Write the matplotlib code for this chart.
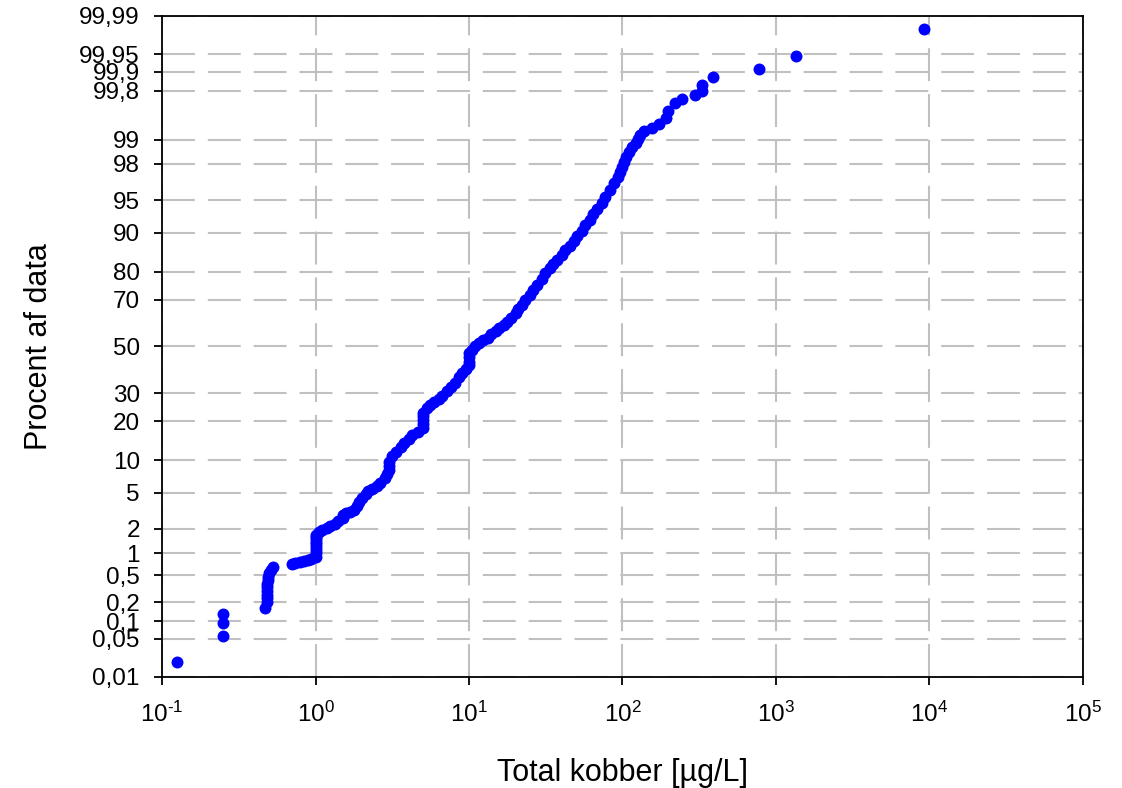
import math
import numpy as np
import matplotlib
matplotlib.use("Agg")
import matplotlib.pyplot as plt
from matplotlib.ticker import NullLocator, FixedLocator, FixedFormatter

plt.rcParams['font.family'] = ['Liberation Sans', 'DejaVu Sans']
plt.rcParams['mathtext.fontset'] = 'custom'
plt.rcParams['mathtext.rm'] = 'Liberation Sans'
plt.rcParams['mathtext.it'] = 'Liberation Sans:italic'
plt.rcParams['mathtext.default'] = 'regular'

# sorted copper concentrations (ug/L) and their cumulative percent
kobber = [0.125, 0.25, 0.25, 0.25,
          0.47, 0.48, 0.48, 0.48, 0.48, 0.48, 0.48, 0.49, 0.49, 0.50, 0.51, 0.53,
          0.70, 0.74, 0.79, 0.84, 0.89, 0.94,
          1.0, 1.0, 1.0, 1.0, 1.0, 1.0, 1.0, 1.0, 1.0,
          1.05, 1.11, 1.18, 1.25, 1.33, 1.41, 1.5, 1.5, 1.57, 1.67,
          1.77, 1.85, 1.93, 2.0, 2.12, 2.21, 2.35, 2.5, 2.65, 2.82, 2.94,
          3.0, 3.0, 3.0,
          3.17, 3.37, 3.58, 3.8, 4.04, 4.28, 4.62,
          5.0, 5.0, 5.0, 5.0, 5.0,
          5.29, 5.61, 5.96, 6.33, 6.72, 7.14, 7.58, 8.05, 8.55, 8.94, 9.49,
          10.0, 10.0, 10.0, 10.0,
          10.4, 11.0, 11.7, 12.4, 13.2, 14.0, 14.9, 15.8, 16.8, 17.8,
          18.9, 20.1, 21.0, 22.0, 23.3, 24.8, 26.3, 27.9, 29.7, 31.5,
          33.5, 35.5, 37.7, 40.1, 42.5, 45.2, 48.0, 50.9, 54.1, 57.4,
          61.0, 64.7, 68.7, 73.0, 77.5, 82.3, 87.4, 92.8, 97.0, 100,
          103, 106, 111, 116, 122, 127, 131, 139, 155, 172,
          191, 199, 221, 246, 295, 332, 332, 386, 781, 1360,
          9280]
procent = [0.0195, 0.057, 0.093, 0.131,
           0.165, 0.2, 0.23, 0.26, 0.3, 0.34, 0.38, 0.43, 0.48, 0.54, 0.6, 0.66,
           0.72, 0.745, 0.77, 0.79, 0.82, 0.84,
           0.9, 1.0, 1.1, 1.2, 1.3, 1.4, 1.5, 1.6, 1.7,
           1.85, 1.96, 2.06, 2.18, 2.30, 2.49, 2.70, 2.91, 3.07, 3.15,
           3.31, 3.65, 4.03, 4.44, 4.88, 5.24, 5.47, 5.86, 6.27, 6.99, 7.61,
           8.28, 8.98, 9.73,
           10.96, 11.83, 13.0, 13.97, 14.99, 16.07, 16.91,
           18.07, 19.28, 20.53, 21.84, 22.85,
           24.58, 25.66, 26.77, 27.9, 29.05, 31.0, 32.6, 34.24, 36.77, 38.48, 40.21,
           41.53, 43.29, 45.07, 47.17,
           48.21, 50.0, 51.36, 52.71, 54.02, 55.37, 56.71, 58.04, 59.37, 60.68,
           62.4, 64.5, 66.17, 67.8, 69.81, 71.73, 73.6, 75.43, 77.5, 79.47,
           81.03, 82.23, 83.4, 84.77, 86.03, 87.01, 88.18, 89.25, 90.25, 91.37,
           92.23, 93.16, 93.89, 94.65, 95.35, 96.07, 96.7, 97.16, 97.51, 97.82,
           98.1, 98.35, 98.56, 98.76, 98.9, 99.02, 99.13, 99.23, 99.3, 99.38,
           99.49, 99.6, 99.69, 99.73, 99.77, 99.8, 99.84, 99.88, 99.91, 99.946,
           99.982]

y_ticks = [0.01, 0.05, 0.1, 0.2, 0.5, 1, 2, 5, 10, 20, 30, 50, 70, 80, 90, 95, 98, 99,
           99.8, 99.9, 99.95, 99.99]
y_labels = ['0,01', '0,05', '0,1', '0,2', '0,5', '1', '2', '5', '10', '20', '30', '50',
            '70', '80', '90', '95', '98', '99', '99,8', '99,9', '99,95', '99,99']
x_ticks = [0.1, 1, 10, 100, 1000, 10000, 100000]
x_labels = ['$10^{\u2010 1}$', r'$10^{0}$', r'$10^{1}$', r'$10^{2}$', r'$10^{3}$',
            r'$10^{4}$', r'$10^{5}$']


# normal probability scale (percent -> z and back), Acklam's approximation
A = [-3.969683028665376e+01, 2.209460984245205e+02, -2.759285104469687e+02,
     1.383577518672690e+02, -3.066479806614716e+01, 2.506628277459239e+00]
B = [-5.447609879822406e+01, 1.615858368580409e+02, -1.556989798598866e+02,
     6.680131188771972e+01, -1.328068155288572e+01]
C = [-7.784894002430293e-03, -3.223964580411365e-01, -2.400758277161838e+00,
     -2.549732539343734e+00, 4.374664141464968e+00, 2.938163982698783e+00]
D = [7.784695709041462e-03, 3.224671290700398e-01, 2.445134137142996e+00,
     3.754408661907416e+00]


def _tail(q):
    return ((((((C[0]*q + C[1])*q + C[2])*q + C[3])*q + C[4])*q + C[5]) /
            ((((D[0]*q + D[1])*q + D[2])*q + D[3])*q + 1))


def pct_to_z(pct):
    arr = np.asarray(np.ma.getdata(pct), dtype=float)
    shape = arr.shape
    p = np.clip(np.atleast_1d(arr).ravel() / 100.0, 1e-12, 1 - 1e-12)
    z = np.empty_like(p)
    lo = p < 0.02425
    hi = p > 1 - 0.02425
    mid = ~(lo | hi)
    z[lo] = _tail(np.sqrt(-2 * np.log(p[lo])))
    z[hi] = -_tail(np.sqrt(-2 * np.log(1 - p[hi])))
    q = p[mid] - 0.5
    r = q * q
    z[mid] = ((((((A[0]*r + A[1])*r + A[2])*r + A[3])*r + A[4])*r + A[5]) * q /
              (((((B[0]*r + B[1])*r + B[2])*r + B[3])*r + B[4])*r + 1))
    return z.reshape(shape)


_erf = np.vectorize(math.erf, otypes=[float])


def z_to_pct(z):
    z = np.asarray(np.ma.getdata(z), dtype=float)
    return 50.0 * (1 + _erf(z / math.sqrt(2)))


fig = plt.figure(figsize=(11.22, 7.88), dpi=100)
ax = fig.add_axes([0.1444, 0.1409, 0.8208, 0.8388])

ax.plot(kobber, procent, 'o', color='#0000ff', ms=8.6, mec='#0000ff', mew=0,
        zorder=3)

ax.set_xscale('log')
ax.set_yscale('function', functions=(pct_to_z, z_to_pct))
ax.set_xlim(0.1, 1e5)
ax.set_ylim(0.01, 99.99)

ax.xaxis.set_major_locator(FixedLocator(x_ticks))
ax.xaxis.set_major_formatter(FixedFormatter(x_labels))
ax.xaxis.set_minor_locator(NullLocator())
ax.yaxis.set_major_locator(FixedLocator(y_ticks))
ax.yaxis.set_major_formatter(FixedFormatter(y_labels))
ax.yaxis.set_minor_locator(NullLocator())

ax.set_axisbelow(True)
ax.grid(True, color='#c0c0c0', lw=1.5, linestyle=(0, (15.8, 6.2)))

for s in ax.spines.values():
    s.set_linewidth(1.3)
    s.set_color('black')

ax.tick_params(axis='both', direction='out', length=6, width=1.3, labelsize=17.5,
               colors='black')
ax.tick_params(axis='x', pad=12)
ax.tick_params(axis='y', pad=10)

ax.set_xlabel('Total kobber [µg/L]', fontsize=22, labelpad=22)
ax.set_ylabel('Procent af data', fontsize=22, labelpad=18)

fig.savefig('out.png', dpi=100)
